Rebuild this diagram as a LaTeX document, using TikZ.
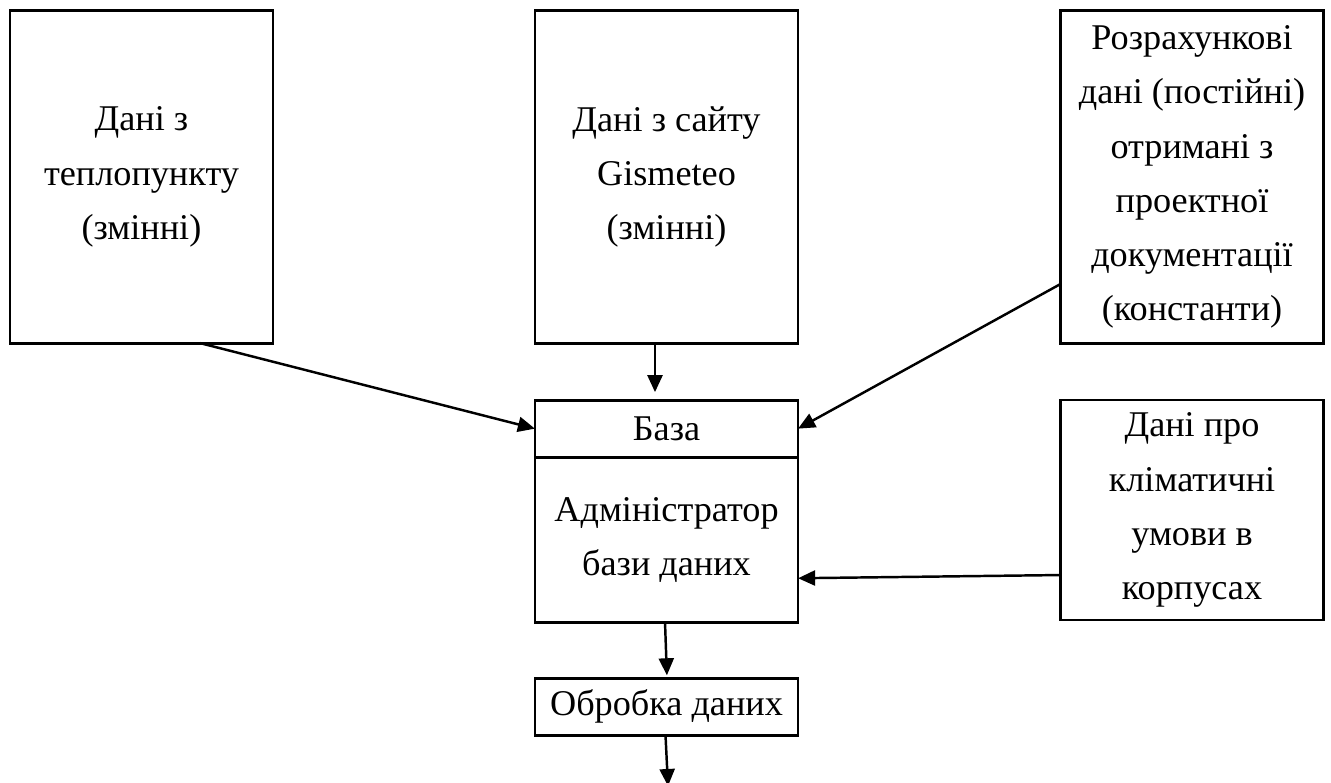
\documentclass[tikz,border=0pt]{standalone}
\usepackage{fontspec}
\setmainfont{Liberation Serif}
\usetikzlibrary{positioning,arrows.meta}
\tikzset{
    data-box/.style = {draw, line width=0.8pt, rectangle, align=center, outer sep=0pt, inner sep=0pt, minimum width=2.63cm, font=\fontsize{10.3}{15.4}\selectfont},
    flow-arrow/.style = {-{Triangle[length=0.17cm, width=0.15cm]}, line width=0.7pt},
}

\begin{document}
\begin{tikzpicture}[x=0.01cm, y=-0.01cm]
\useasboundingbox (0,0) rectangle (1331,782);
\node[data-box, minimum height=3.32cm] (teplo) at (141.5,177) {Дані з\\теплопункту\\(змінні)};
\node[data-box, minimum height=3.32cm] (gismeteo) at (666.5,177) {Дані з сайту\\Gismeteo\\(змінні)};
\node[data-box, minimum height=3.32cm] (project) at (1192,177) {Розрахункові\\дані (постійні)\\отримані з\\проектної\\документації\\(константи)};
\node[data-box, minimum height=0.57cm, below=0.57cm of gismeteo] (dbhead) {База};
\node[data-box, minimum height=1.65cm, below=0pt of dbhead] (dbbody) {Адміністратор\\бази даних};
\node[data-box, minimum height=2.2cm] (klimat) at (1192,510) {Дані про\\кліматичні\\умови в\\корпусах};
\node[data-box, minimum height=0.57cm, below=0.56cm of dbbody] (obrobka) {Обробка даних};
\coordinate (out) at (668,786);

\draw[flow-arrow] ([xshift=0.585cm]teplo.south) -- (dbhead.west);
\draw[flow-arrow, shorten >=0.08cm] ([xshift=-0.115cm]gismeteo.south) -- ([xshift=-0.115cm]dbhead.north);
\draw[flow-arrow] ([yshift=-1.07cm]project.west) -- (dbhead.east);
\draw[flow-arrow] ([yshift=-0.65cm]klimat.west) -- ([yshift=-0.385cm]dbbody.east);
\draw[flow-arrow, shorten >=0.03cm] ([xshift=-0.015cm]dbbody.south) -- ([xshift=0.005cm]obrobka.north);
\draw[flow-arrow] ([xshift=-0.01cm]obrobka.south) -- (out);
\end{tikzpicture}
\end{document}
